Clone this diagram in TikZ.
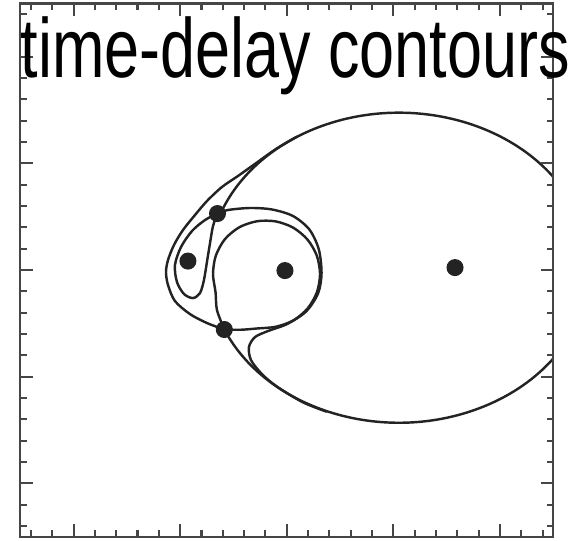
\documentclass[tikz,border=0pt]{standalone}
\usepackage{fontspec}
\setmainfont{Liberation Sans}
\definecolor{GrisMarco}{RGB}{70,70,70}
\definecolor{GrisLinea}{RGB}{35,35,35}
\usetikzlibrary{backgrounds}

\begin{document}
\begin{tikzpicture}[x=1cm, y=1cm,
	contorno/.style={GrisLinea, line width=0.65pt, line join=round},
	imagen/.style={circle, fill=GrisLinea, inner sep=0pt, minimum size=0.16cm},
	marco/.style={GrisMarco, line width=0.55pt}]
	\useasboundingbox (-2.690,-2.533) rectangle (2.666,2.533);
	\draw[marco] (-2.5,-2.5) rectangle (2.5,2.5);
	\foreach \i in {-12,...,12}{
		\draw[marco] (\i/5,-2.5) -- ++(0,0.062) (\i/5,2.5) -- ++(0,-0.062)
			(-2.5,\i/5) -- ++(0.062,0) (2.5,\i/5) -- ++(-0.062,0);
	}
	\foreach \i in {-2,...,2}{
		\draw[marco] (\i,-2.5) -- ++(0,0.12) (\i,2.5) -- ++(0,-0.12)
			(-2.5,\i) -- ++(0.12,0) (2.5,\i) -- ++(-0.12,0);
	}
	\node[imagen] (sillaA) at (-0.650,0.530) {};
	\node[imagen] (sillaB) at (-0.586,-0.558) {};
	\node[imagen] (izq) at (-0.927,0.084) {};
	\node[imagen] (centro) at (-0.017,-0.005) {};
	\node[imagen] (der) at (1.578,0.023) {};
	\node[anchor=base west, inner sep=0pt, font=\fontsize{22.4}{26}\selectfont] (titulo)
		at (-2.503,1.806) {\scalebox{0.75}[1]{time-delay contours}};
	\begin{scope}[on background layer]
		\clip (-2.5,-2.5) rectangle (2.5,2.5);
		\draw[contorno] (sillaB.center) arc[start angle=-156.5, end angle=159.7, x radius=1.786, y radius=1.454];
		\draw[contorno] plot[smooth] coordinates {(0.097,1.252) (-0.105,1.133) (-0.285,1.005)
			(-0.458,0.882) (-0.608,0.779) (-0.749,0.647) (-0.861,0.516) (-0.974,0.375) (-1.058,0.235)
			(-1.114,0.094) (-1.133,-0.019) (-1.114,-0.141) (-1.049,-0.291) (-0.908,-0.413)
			(-0.749,-0.497) (sillaB.center)};
		\draw[contorno] plot[smooth] coordinates {(sillaA.center) (-0.767,0.469) (-0.889,0.366)
			(-0.992,0.216) (-1.049,0.047) (-1.030,-0.113) (-0.964,-0.225) (-0.880,-0.263)
			(-0.814,-0.216) (-0.777,-0.094) (-0.749,0.075) (-0.720,0.253) (-0.692,0.413) (sillaA.center)};
		\draw[contorno] plot[smooth] coordinates {(sillaB.center) (-0.655,-0.375) (-0.668,-0.210)
			(-0.692,-0.038) (-0.666,0.134) (-0.580,0.290) (-0.444,0.402) (-0.277,0.458) (-0.103,0.456)
			(0.061,0.397) (0.195,0.285) (0.282,0.134) (0.312,-0.038) (0.282,-0.210) (0.195,-0.361)
			(0.061,-0.473) (-0.103,-0.532) (-0.277,-0.548) (-0.430,-0.560) (sillaB.center)};
		\draw[contorno] plot[smooth] coordinates {(sillaA.center) (-0.552,0.563) (-0.345,0.582)
			(-0.139,0.568) (0.058,0.507) (0.212,0.380) (0.300,0.195) (0.326,-0.030) (0.293,-0.220)
			(0.180,-0.390) (0.002,-0.507) (-0.176,-0.572) (-0.298,-0.629) (-0.355,-0.722)
			(-0.336,-0.844) (-0.233,-0.976) (-0.090,-1.095) (0.150,-1.240) (0.374,-1.329)};
	\end{scope}
\end{tikzpicture}
\end{document}
